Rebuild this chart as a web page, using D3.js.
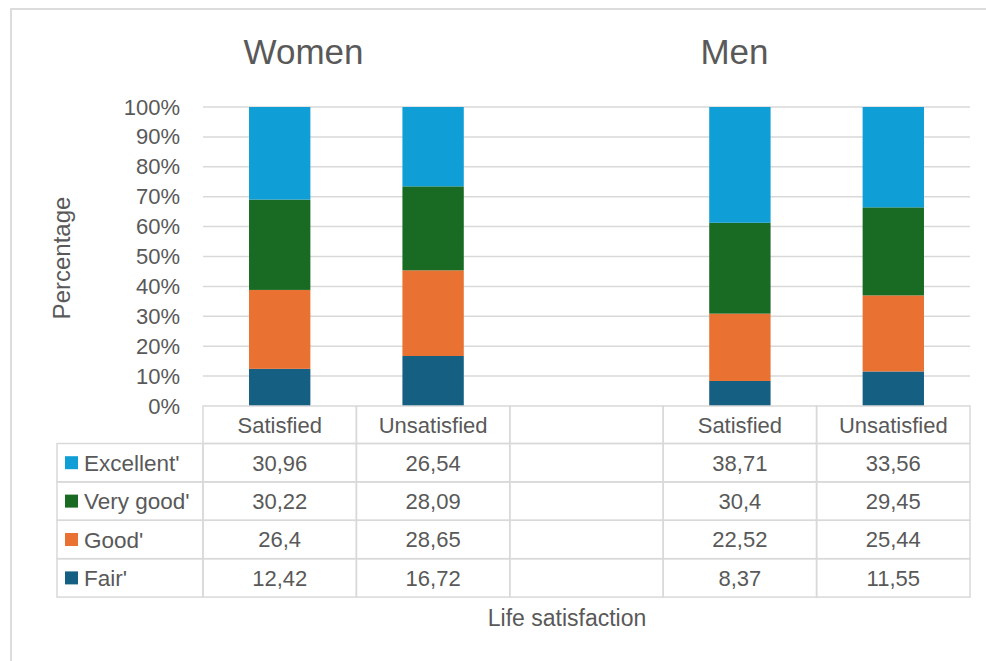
<!DOCTYPE html>
<html>
<head>
<meta charset="utf-8">
<script src="https://cdn.jsdelivr.net/npm/d3@7"></script>
<style>
  html, body { margin: 0; padding: 0; background: #ffffff; }
  svg { display: block; font-family: "Liberation Sans", Arial, sans-serif; }
</style>
</head>
<body>
<svg id="chart" width="986" height="661"></svg>
<script>
// Self-rated health by life satisfaction, women vs men (shares in %)
const groups = ["Women", "Men"];
const satisfaction = ["Satisfied", "Unsatisfied"];
// Category slots along the x axis; the empty slot separates the two groups
const slots = ["Women|Satisfied", "Women|Unsatisfied", "gap", "Men|Satisfied", "Men|Unsatisfied"];
const columns = ["Women|Satisfied", "Women|Unsatisfied", "Men|Satisfied", "Men|Unsatisfied"];

const seriesNames = ["Excellent'", "Very good'", "Good'", "Fair'"];
const excellent = [30.96, 26.54, 38.71, 33.56];
const veryGood  = [30.22, 28.09, 30.4, 29.45];
const good      = [26.4, 28.65, 22.52, 25.44];
const fair      = [12.42, 16.72, 8.37, 11.55];
const seriesColors = ["#0F9ED5", "#196B24", "#E97132", "#156082"];

const yTicks = [0, 10, 20, 30, 40, 50, 60, 70, 80, 90, 100];
const yTitle = "Percentage";
const xTitle = "Life satisfaction";

// Rows for the stack / table
const seriesValues = [excellent, veryGood, good, fair];
const rows = columns.map((c, i) => {
  const r = { key: c };
  seriesNames.forEach((s, j) => { r[s] = seriesValues[j][i]; });
  return r;
});

const svg = d3.select("#chart");
const textColor = "#595959";
const lineColor = "#D9D9D9";

// Outer frame
svg.append("rect")
  .attr("x", 11).attr("y", 9)
  .attr("width", 990).attr("height", 670)
  .attr("fill", "none").attr("stroke", "#DCDCDC").attr("stroke-width", 2);

const plot = { left: 203, right: 970, top: 107, bottom: 406 };

const x = d3.scaleBand().domain(slots).range([plot.left, plot.right]).paddingInner(0).paddingOuter(0);
const y = d3.scaleLinear().domain([0, 100]).range([plot.bottom, plot.top]);

// Gridlines
svg.append("g").selectAll("line")
  .data(yTicks.filter(t => t > 0))
  .join("line")
  .attr("x1", plot.left).attr("x2", plot.right)
  .attr("y1", d => y(d)).attr("y2", d => y(d))
  .attr("stroke", lineColor).attr("stroke-width", 1.5);

// Y axis labels
const yAxis = svg.append("g")
  .attr("transform", `translate(${plot.left},0)`)
  .call(d3.axisLeft(y).tickValues(yTicks).tickSize(0).tickPadding(23).tickFormat(d => d + "%"));
yAxis.select(".domain").remove();
yAxis.selectAll("text")
  .attr("fill", textColor)
  .style("font-size", "22px")
  .style("font-family", "\"Liberation Sans\", Arial, sans-serif");

// Stacked bars (bottom: Fair', top: Excellent')
const stackOrder = seriesNames.slice().reverse();
const stacked = d3.stack().keys(stackOrder)(rows);
const colorOf = d3.scaleOrdinal().domain(seriesNames).range(seriesColors);
const barW = x.bandwidth() * 0.4;

svg.append("g").selectAll("g")
  .data(stacked)
  .join("g")
  .attr("fill", d => colorOf(d.key))
  .selectAll("rect")
  .data(d => d)
  .join("rect")
  .attr("x", d => x(d.data.key) + (x.bandwidth() - barW) / 2)
  .attr("width", barW)
  .attr("y", d => y(d[1]))
  .attr("height", d => y(d[0]) - y(d[1]));

// Group titles
const titleX = { Women: 303.5, Men: 734.5 };
svg.append("g").selectAll("text")
  .data(groups)
  .join("text")
  .attr("x", d => titleX[d])
  .attr("y", 64)
  .attr("text-anchor", "middle")
  .attr("fill", textColor)
  .style("font-size", "35px")
  .text(d => d);

// Data table under the axis
const headerH = 37.5;
const rowH = 38.4;
const legendLeft = 57;
const table = svg.append("g");
const fmt = v => String(v).replace(".", ",");

// Header row: category names
table.selectAll("rect.head")
  .data(slots)
  .join("rect")
  .attr("class", "head")
  .attr("x", d => x(d)).attr("y", plot.bottom)
  .attr("width", x.bandwidth()).attr("height", headerH)
  .attr("fill", "none").attr("stroke", lineColor).attr("stroke-width", 1.5);

table.selectAll("text.head")
  .data(slots.filter(s => s !== "gap"))
  .join("text")
  .attr("class", "head")
  .attr("x", d => x(d) + x.bandwidth() / 2)
  .attr("y", plot.bottom + headerH / 2)
  .attr("dy", "0.36em")
  .attr("text-anchor", "middle")
  .attr("fill", textColor)
  .style("font-size", "22px")
  .text(d => d.split("|")[1]);

// Series rows
const rowG = table.selectAll("g.row")
  .data(seriesNames)
  .join("g")
  .attr("class", "row")
  .attr("transform", (d, i) => `translate(0,${plot.bottom + headerH + i * rowH})`);

rowG.append("rect")
  .attr("x", legendLeft).attr("y", 0)
  .attr("width", plot.left - legendLeft).attr("height", rowH)
  .attr("fill", "none").attr("stroke", lineColor).attr("stroke-width", 1.5);

rowG.append("rect")
  .attr("x", 65).attr("y", rowH / 2 - 6.5)
  .attr("width", 13).attr("height", 13)
  .attr("fill", d => colorOf(d));

rowG.append("text")
  .attr("x", 84).attr("y", rowH / 2)
  .attr("dy", "0.36em")
  .attr("fill", textColor)
  .style("font-size", "22.5px")
  .text(d => d);

rowG.selectAll("rect.cell")
  .data(slots)
  .join("rect")
  .attr("class", "cell")
  .attr("x", s => x(s)).attr("y", 0)
  .attr("width", x.bandwidth()).attr("height", rowH)
  .attr("fill", "none").attr("stroke", lineColor).attr("stroke-width", 1.5);

rowG.selectAll("text.val")
  .data(name => rows.map(r => ({ key: r.key, v: r[name] })))
  .join("text")
  .attr("class", "val")
  .attr("x", d => x(d.key) + x.bandwidth() / 2)
  .attr("y", rowH / 2)
  .attr("dy", "0.36em")
  .attr("text-anchor", "middle")
  .attr("fill", textColor)
  .style("font-size", "22px")
  .text(d => fmt(d.v));

// Axis titles
svg.append("text")
  .attr("transform", "translate(70,258) rotate(-90)")
  .attr("text-anchor", "middle")
  .attr("fill", textColor)
  .style("font-size", "24px")
  .text(yTitle);

svg.append("text")
  .attr("x", 567).attr("y", 626)
  .attr("text-anchor", "middle")
  .attr("fill", textColor)
  .style("font-size", "23px")
  .text(xTitle);
</script>
</body>
</html>
